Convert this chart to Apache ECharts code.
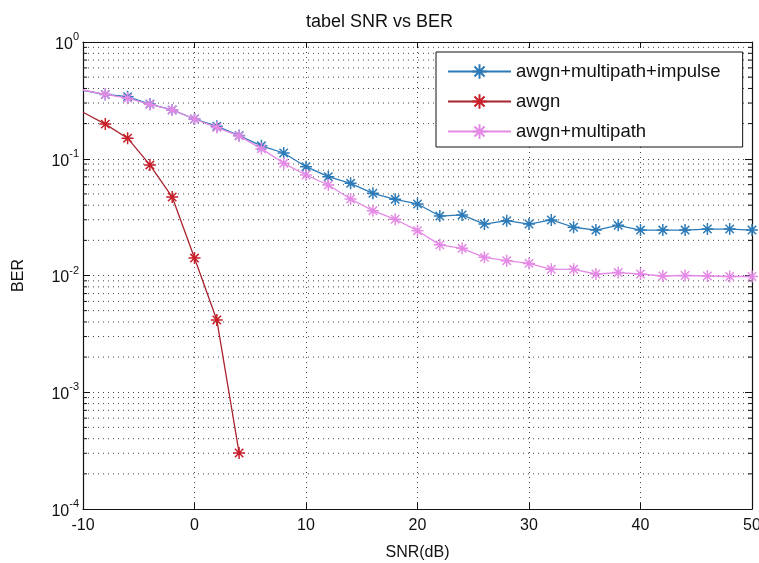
<!DOCTYPE html>
<html>
<head>
<meta charset="utf-8">
<script src="https://cdn.jsdelivr.net/npm/echarts@6/dist/echarts.min.js"></script>
<style>
html,body{margin:0;padding:0;background:#fff;}
#chart{width:759px;height:563px;}
</style>
</head>
<body>
<div id="chart"></div>
<script>
// ---- data ----
const snr = [-10,-8,-6,-4,-2,0,2,4,6,8,10,12,14,16,18,20,22,24,26,28,30,32,34,36,38,40,42,44,46,48,50];
const berImpulse = [0.385,0.355,0.34,0.294,0.262,0.219,0.19,0.158,0.129,0.112,0.0855,0.0702,0.0616,0.0506,0.0449,0.041,0.0323,0.033,0.0276,0.0295,0.0276,0.0299,0.0259,0.0245,0.0269,0.0245,0.0245,0.0245,0.025,0.025,0.0245];
const awgnSnr = [-10,-8,-6,-4,-2,0,2,4];
const berAwgn = [0.25,0.198,0.15,0.0885,0.047,0.0141,0.00416,0.000302];
const berMultipath = [0.388,0.356,0.33,0.292,0.262,0.219,0.185,0.157,0.122,0.0914,0.0726,0.0596,0.0452,0.0359,0.0303,0.0242,0.0183,0.0171,0.0143,0.0134,0.0127,0.0113,0.0113,0.0103,0.0106,0.0103,0.0099,0.01,0.0099,0.0098,0.0098];
const seriesNames = ['awgn+multipath+impulse','awgn','awgn+multipath'];
const xTicks = {min:-10, max:50, interval:10};
const yRange = {min:1e-4, max:1};

// minor log grid positions (2..9 x 10^k)
const minorVals = [];
for (let k = -4; k <= -1; k++) for (let m = 2; m <= 9; m++) minorVals.push(+(m * Math.pow(10, k)).toPrecision(3));

const FONT = '"Liberation Sans", Arial, Helvetica, sans-serif';
const STAR = 'path://M0,-6L0,6M-6,0L6,0M-4.2,-4.2L4.2,4.2M-4.2,4.2L4.2,-4.2';
const colBlue = '#2c7bb8', colRed = '#c81f2a', colPink = '#e48ae6';

function mk(data, xs) { return data.map((v, i) => (i === 0 && xs[0] === -10) ? {value:[xs[i], v], symbol:'none'} : [xs[i], v]); }

const chart = echarts.init(document.getElementById('chart'), null, {renderer:'canvas'});
const option = {
  backgroundColor:'#ffffff',
  animation:false,
  title:{text:'tabel SNR vs BER', left:'center', top:8,
    textStyle:{fontFamily:FONT, fontSize:18, fontWeight:'normal', color:'#111'}},
  grid:{left:83, right:7, top:42, bottom:54, outerBoundsMode:'none', containLabel:false},
  legend:{
    data:seriesNames, orient:'vertical', left:436, top:52,
    backgroundColor:'#fff', borderColor:'#111', borderWidth:1, borderRadius:0,
    padding:[10,22,6,11], itemGap:11, itemWidth:63, itemHeight:18,
    textStyle:{fontFamily:FONT, fontSize:18.5, color:'#111', padding:[0,0,0,0]}
  },
  xAxis:[{
    type:'value', min:xTicks.min, max:xTicks.max, interval:xTicks.interval,
    name:'SNR(dB)', nameLocation:'middle', nameGap:36,
    nameTextStyle:{fontFamily:FONT, fontSize:16, color:'#111'},
    axisLine:{onZero:false, lineStyle:{color:'#111', width:1.2}},
    axisTick:{inside:true, length:6, lineStyle:{color:'#111'}},
    axisLabel:{fontFamily:FONT, fontSize:16, color:'#111', margin:9},
    splitLine:{show:true, lineStyle:{color:'#444', type:[1,4], width:1}}
  },{
    type:'value', position:'top', min:xTicks.min, max:xTicks.max, interval:xTicks.interval,
    axisLine:{onZero:false, lineStyle:{color:'#111', width:1.2}},
    axisTick:{inside:true, length:6, lineStyle:{color:'#111'}},
    axisLabel:{show:false}, splitLine:{show:false}
  }],
  yAxis:[{
    type:'log', logBase:10, min:yRange.min, max:yRange.max,
    name:'BER', nameLocation:'middle', nameGap:56,
    nameTextStyle:{fontFamily:FONT, fontSize:16, color:'#111'},
    axisLine:{onZero:false, lineStyle:{color:'#111', width:1.2}},
    axisTick:{inside:true, length:7, lineStyle:{color:'#111'}},
    axisLabel:{
      margin:4, color:'#111',
      formatter:function(v){ const e = Math.round(Math.log10(v)); return '{b|10}{s|' + e + '}'; },
      rich:{
        b:{fontFamily:FONT, fontSize:16, color:'#111', lineHeight:21, verticalAlign:'bottom'},
        s:{fontFamily:FONT, fontSize:11, color:'#111', lineHeight:21, verticalAlign:'top'}
      }
    },
    splitLine:{show:true, lineStyle:{color:'#444', type:[1,4], width:1}}
  },{
    type:'log', logBase:10, min:yRange.min, max:yRange.max, position:'right',
    axisLine:{onZero:false, lineStyle:{color:'#111', width:1.2}},
    axisTick:{inside:true, length:7, lineStyle:{color:'#111'}},
    axisLabel:{show:false}, splitLine:{show:false}
  }],
  series:[
    {
      type:'custom', silent:true, z:1, xAxisIndex:0, yAxisIndex:0,
      data:minorVals.map(v => [xTicks.min, v]),
      renderItem:function(params, api){
        const v = api.value(1);
        const p0 = api.coord([xTicks.min, v]);
        const p1 = api.coord([xTicks.max, v]);
        return {type:'group', children:[
          {type:'line', shape:{x1:p0[0], y1:p0[1], x2:p1[0], y2:p1[1]}, style:{stroke:'#444', lineWidth:1, lineDash:[1,4]}},
          {type:'line', shape:{x1:p0[0], y1:p0[1], x2:p0[0]+4, y2:p0[1]}, style:{stroke:'#111', lineWidth:1}},
          {type:'line', shape:{x1:p1[0]-4, y1:p1[1], x2:p1[0], y2:p1[1]}, style:{stroke:'#111', lineWidth:1}}
        ]};
      }
    },
    {
      name:seriesNames[0], type:'line', z:3, data:mk(berImpulse, snr),
      symbol:STAR, symbolSize:12, showAllSymbol:true,
      lineStyle:{color:colBlue, width:1.3},
      itemStyle:{color:colBlue, borderColor:colBlue, borderWidth:1.5}
    },
    {
      name:seriesNames[1], type:'line', z:3, data:mk(berAwgn, awgnSnr),
      symbol:STAR, symbolSize:12, showAllSymbol:true,
      lineStyle:{color:'#a8242e', width:1.3},
      itemStyle:{color:colRed, borderColor:colRed, borderWidth:1.5}
    },
    {
      name:seriesNames[2], type:'line', z:4, data:mk(berMultipath, snr),
      symbol:STAR, symbolSize:12, showAllSymbol:true,
      lineStyle:{color:colPink, width:1.3},
      itemStyle:{color:colPink, borderColor:colPink, borderWidth:1.5}
    }
  ]
};
chart.setOption(option);
</script>
</body>
</html>
